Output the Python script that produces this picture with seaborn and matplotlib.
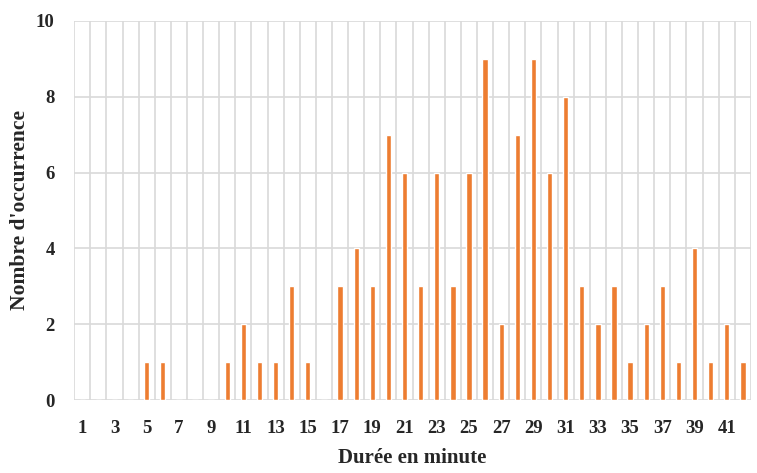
import numpy as np
import pandas as pd
import seaborn as sns
import matplotlib.pyplot as plt

minutes = list(range(1, 43))
occurrences = [0, 0, 0, 0, 1, 1, 0, 0, 0, 1, 2, 1, 1, 3, 1, 0, 3, 4, 3, 7, 6,
               3, 6, 3, 6, 9, 2, 7, 9, 6, 8, 3, 2, 3, 1, 2, 3, 1, 4, 1, 2, 1]
tick_labels = [str(m) for m in minutes if m % 2 == 1]

df = pd.DataFrame({'minute': [str(m) for m in minutes], 'count': occurrences})

sns.set_style('white')
plt.rcParams['font.family'] = ['Liberation Serif', 'DejaVu Serif']
plt.rcParams['font.weight'] = 'bold'

fig = plt.figure(figsize=(7.57, 4.73), dpi=100)
ax = fig.add_axes([0.098, 0.154, 0.894, 0.802])
sns.barplot(data=df, x='minute', y='count', color='#ED7D31', saturation=1,
            width=0.33, order=[str(m) for m in minutes], ax=ax, zorder=3)

ax.set_xlim(-0.5, len(minutes) - 0.5)
ax.set_ylim(0, 10)
ax.set_yticks(range(0, 11, 2))
ax.set_xticks([i for i, m in enumerate(minutes) if m % 2 == 1])
ax.set_xticklabels(tick_labels)
ax.set_xticks(np.arange(-0.5, len(minutes), 1), minor=True)
ax.grid(which='minor', axis='x', color='#d9d9d9', linewidth=1.2, zorder=0)
ax.grid(which='major', axis='y', color='#d9d9d9', linewidth=1.2, zorder=0)
ax.grid(which='major', axis='x', visible=False)
for s in ax.spines.values():
    s.set_visible(False)
ax.tick_params(axis='both', which='both', length=0, labelsize=13.5)
ax.tick_params(axis='x', pad=14)
ax.tick_params(axis='y', pad=14)
for lab in ax.get_xticklabels() + ax.get_yticklabels():
    lab.set_fontweight('bold')
ax.set_xlabel('Durée en minute', fontsize=15, fontweight='bold', labelpad=8)
ax.set_ylabel("Nombre d'occurrence", fontsize=15.5, fontweight='bold', labelpad=4)

fig.savefig('out.png', dpi=100)
